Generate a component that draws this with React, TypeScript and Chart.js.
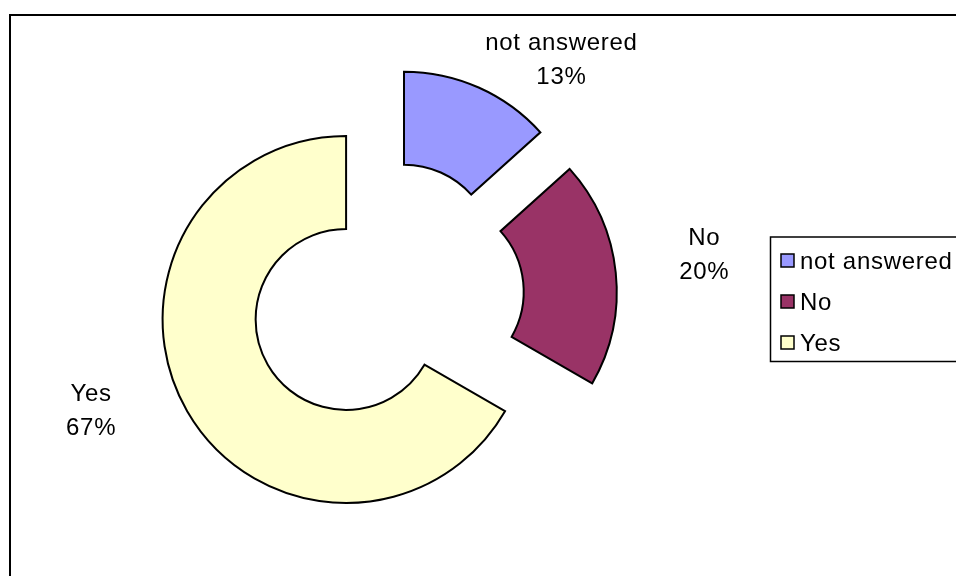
import React, { useEffect, useRef } from 'react';
import { Chart, registerables } from 'chart.js';

Chart.register(...registerables);

// ---- data ----
const categories: string[] = ['not answered', 'No', 'Yes'];
const responses: number[] = [2, 3, 10];
const sliceColors: string[] = ['#9999FF', '#993366', '#FFFFCC'];

const FONT = '"Liberation Sans", Arial, sans-serif';

const explodePlugin = {
  id: 'explodeSlices',
  afterDatasetUpdate(chart: any, args: any, opts: any) {
    const dist: number[] = opts.distances || [];
    args.meta.data.forEach((arc: any, i: number) => {
      const mid = (arc.startAngle + arc.endAngle) / 2;
      const d = dist[i] || 0;
      arc.x += Math.cos(mid) * d;
      arc.y += Math.sin(mid) * d;
    });
  },
};

const decorPlugin = {
  id: 'decor',
  afterDraw(chart: any, _args: any, opts: any) {
    const ctx = chart.ctx as CanvasRenderingContext2D;
    const meta = chart.getDatasetMeta(0);
    const data = chart.data.datasets[0].data as number[];
    const labels = chart.data.labels as string[];
    const colors = chart.data.datasets[0].backgroundColor as string[];
    const total = data.reduce((a, b) => a + b, 0);

    ctx.save();
    // outer frame
    ctx.strokeStyle = '#000';
    ctx.lineWidth = 2;
    ctx.strokeRect(10, 15, 1000, 1000);

    // data labels
    ctx.fillStyle = '#000';
    ctx.font = `24px ${FONT}`;
    (ctx as any).letterSpacing = '0.7px';
    ctx.textAlign = 'center';
    ctx.textBaseline = 'alphabetic';
    const nudges: number[][] = opts.labelNudges;
    meta.data.forEach((arc: any, i: number) => {
      const mid = (arc.startAngle + arc.endAngle) / 2;
      const r = arc.outerRadius + 40;
      const ax = arc.x + Math.cos(mid) * r + nudges[i][0];
      const ay = arc.y + Math.sin(mid) * r + nudges[i][1];
      const pct = Math.round((data[i] / total) * 100) + '%';
      ctx.fillText(labels[i], ax, ay - 8.4);
      ctx.fillText(pct, ax, ay + 25.6);
    });

    // legend
    const lg = opts.legend;
    ctx.lineWidth = 1.5;
    ctx.strokeStyle = '#000';
    ctx.strokeRect(lg.x, lg.y, lg.w, lg.h);
    ctx.textAlign = 'left';
    labels.forEach((lab, i) => {
      const cy = lg.firstRow + i * lg.rowGap;
      ctx.fillStyle = colors[i];
      ctx.fillRect(lg.boxX, cy - 6.5, 13, 13);
      ctx.lineWidth = 1.5;
      ctx.strokeStyle = '#000';
      ctx.strokeRect(lg.boxX, cy - 6.5, 13, 13);
      ctx.fillStyle = '#000';
      ctx.fillText(lab, lg.textX, cy + 8.5);
    });
    ctx.restore();
  },
};

export default function App() {
  const canvasRef = useRef<HTMLCanvasElement | null>(null);

  useEffect(() => {
    if (!canvasRef.current) return;
    const chart = new Chart(canvasRef.current, {
      type: 'doughnut',
      data: {
        labels: categories,
        datasets: [
          {
            data: responses,
            backgroundColor: sliceColors,
            borderColor: '#000',
            borderWidth: 2,
            borderJoinStyle: 'miter',
          } as any,
        ],
      },
      options: {
        responsive: false,
        animation: false,
        radius: 183.5,
        cutout: '49.3%',
        layout: { padding: { left: 0, right: 185, top: 17.4, bottom: 0 } },
        plugins: {
          legend: { display: false },
          tooltip: { enabled: false },
          explodeSlices: { distances: [45.5, 48, 45.5] },
          decor: {
            labelNudges: [
              [66.5, 7.5],
              [48.8, -15.2],
              [-61.4, -22.3],
            ],
            legend: {
              x: 770.5,
              y: 237,
              w: 400,
              h: 124.5,
              boxX: 781,
              textX: 800,
              firstRow: 260.5,
              rowGap: 41,
            },
          },
        } as any,
      },
      plugins: [explodePlugin, decorPlugin],
    });
    return () => chart.destroy();
  }, []);

  return (
    <div style={{ position: 'fixed', left: 0, top: 0, width: 956, height: 576, background: '#fff', overflow: 'hidden' }}>
      <canvas ref={canvasRef} width={956} height={576} style={{ width: 956, height: 576, display: 'block' }} />
    </div>
  );
}
